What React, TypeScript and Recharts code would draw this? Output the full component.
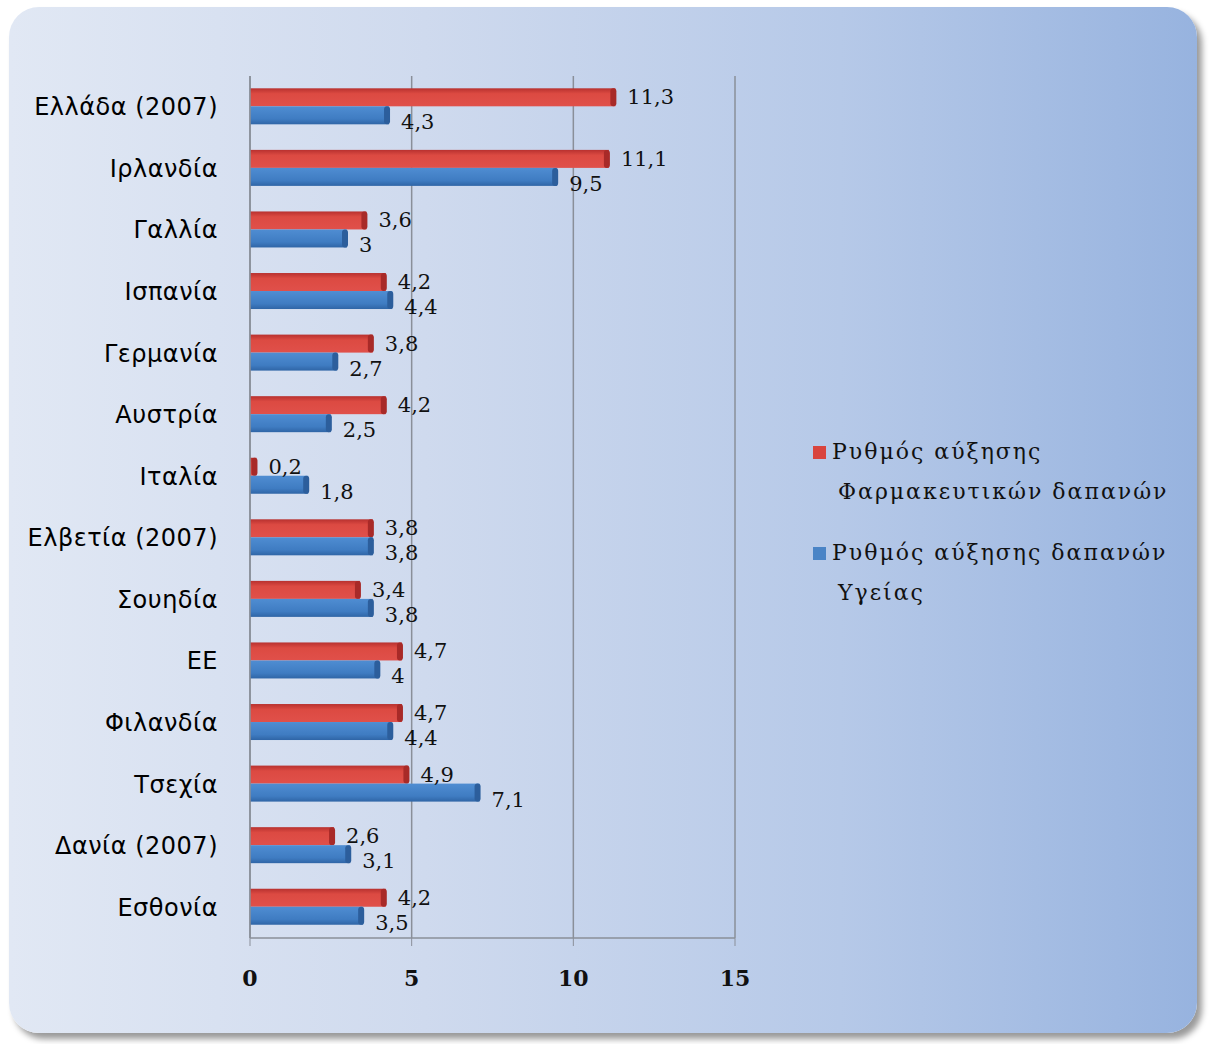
import React from 'react'
import { BarChart, Bar, XAxis, YAxis, CartesianGrid, LabelList } from 'recharts'

// categories (top to bottom) and the two growth-rate series (%)
const categories = [
  'Ελλάδα (2007)', 'Ιρλανδία', 'Γαλλία', 'Ισπανία', 'Γερμανία', 'Αυστρία', 'Ιταλία',
  'Ελβετία (2007)', 'Σουηδία', 'ΕΕ', 'Φιλανδία', 'Τσεχία', 'Δανία (2007)', 'Εσθονία',
]
const pharmaGrowth = [11.3, 11.1, 3.6, 4.2, 3.8, 4.2, 0.2, 3.8, 3.4, 4.7, 4.7, 4.9, 2.6, 4.2]
const healthGrowth = [4.3, 9.5, 3, 4.4, 2.7, 2.5, 1.8, 3.8, 3.8, 4, 4.4, 7.1, 3.1, 3.5]
const xTicks = [0, 5, 10, 15]

const pharmaName = ['Ρυθμός αύξησης', 'Φαρμακευτικών δαπανών']
const healthName = ['Ρυθμός αύξησης δαπανών', 'Υγείας']

const chartData = categories.map((name, i) => ({
  name,
  pharma: pharmaGrowth[i],
  health: healthGrowth[i],
}))

const fmt = (v: number) => String(v).replace('.', ',')

// bar with a little 3D look: gradient body + darker rounded end cap
const Bar3D = (props: any) => {
  const { x, y, width, height, fill, capFill } = props
  if (!width || width <= 0) return null
  return (
    <g>
      <rect x={x} y={y} width={width} height={height} fill={fill} />
      <rect x={x + width - 5} y={y} width={6} height={height} rx={3} fill={capFill} />
    </g>
  )
}

const makeLabel = (dy: number) => (props: any) => {
  const { x, y, width, height, value } = props
  return (
    <text
      x={x + width + 12}
      y={y + height / 2 + dy}
      dominantBaseline="central"
      fontFamily="DejaVu Serif"
      fontSize={21}
      fill="#111"
    >
      {fmt(value)}
    </text>
  )
}

export default function App() {
  return (
    <div style={{ position: 'absolute', left: 0, top: 0, width: 1209, height: 1044, background: '#fff' }}>
      <div
        style={{
          position: 'absolute',
          left: 9,
          top: 7,
          width: 1188,
          height: 1026,
          borderRadius: 30,
          background: 'linear-gradient(90deg, #e1e8f4 0%, #cfdaee 35%, #b6c9e8 70%, #97b3df 100%)',
          boxShadow: '5px 6px 6px rgba(0,0,0,0.4)',
        }}
      />
      <div style={{ position: 'absolute', left: 0, top: 0 }}>
        <BarChart
          width={1209}
          height={1044}
          layout="vertical"
          data={chartData}
          margin={{ top: 76, right: 474, left: 20, bottom: 66 }}
          barCategoryGap="20%"
          barGap={0}
        >
          <defs>
            <linearGradient id="redGrad" x1="0" y1="0" x2="0" y2="1">
              <stop offset="0%" stopColor="#b8312f" />
              <stop offset="30%" stopColor="#dc4a42" />
              <stop offset="100%" stopColor="#e0504a" />
            </linearGradient>
            <linearGradient id="blueGrad" x1="0" y1="0" x2="0" y2="1">
              <stop offset="0%" stopColor="#4f8dd2" />
              <stop offset="70%" stopColor="#3f7cc2" />
              <stop offset="100%" stopColor="#2f65a6" />
            </linearGradient>
          </defs>
          <CartesianGrid horizontal={false} stroke="#8a8f99" strokeWidth={1.5} />
          <XAxis
            type="number"
            domain={[0, 15]}
            ticks={xTicks}
            axisLine={{ stroke: '#8a8f99', strokeWidth: 1.5 }}
            tickLine={{ stroke: '#8a8f99' }}
            tickSize={8}
            tickMargin={24}
            height={40}
            tick={{ fontFamily: 'DejaVu Serif', fontWeight: 'bold', fontSize: 22, fill: '#111' }}
          />
          <YAxis
            type="category"
            dataKey="name"
            width={230}
            axisLine={{ stroke: '#8a8f99', strokeWidth: 1.5 }}
            tickLine={false}
            tickSize={0}
            tickMargin={32}
            interval={0}
            tick={{ fontFamily: 'DejaVu Sans', fontSize: 24, fill: '#000', letterSpacing: 0.5 }}
          />
          <Bar
            dataKey="pharma"
            fill="url(#redGrad)"
            isAnimationActive={false}
            shape={(p: any) => <Bar3D {...p} fill="url(#redGrad)" capFill="#a82a28" />}
          >
            <LabelList dataKey="pharma" content={makeLabel(0)} />
          </Bar>
          <Bar
            dataKey="health"
            fill="url(#blueGrad)"
            isAnimationActive={false}
            shape={(p: any) => <Bar3D {...p} fill="url(#blueGrad)" capFill="#2c5e9c" />}
          >
            <LabelList dataKey="health" content={makeLabel(7)} />
          </Bar>
        </BarChart>
      </div>
      <div
        style={{
          position: 'absolute',
          left: 813,
          top: 432,
          fontFamily: 'DejaVu Serif',
          fontSize: 22,
          lineHeight: '40px',
          color: '#111',
          letterSpacing: 2,
        }}
      >
        {[
          { name: pharmaName, color: '#d9443e' },
          { name: healthName, color: '#4a84c6' },
        ].map((item, i) => (
          <div key={i} style={{ marginBottom: i === 0 ? 21 : 0 }}>
            <div style={{ display: 'flex', alignItems: 'center' }}>
              <span style={{ display: 'inline-block', width: 13, height: 13, background: item.color, marginRight: 6 }} />
              <span>{item.name[0]}</span>
            </div>
            <div style={{ paddingLeft: 25 }}>{item.name[1]}</div>
          </div>
        ))}
      </div>
    </div>
  )
}
